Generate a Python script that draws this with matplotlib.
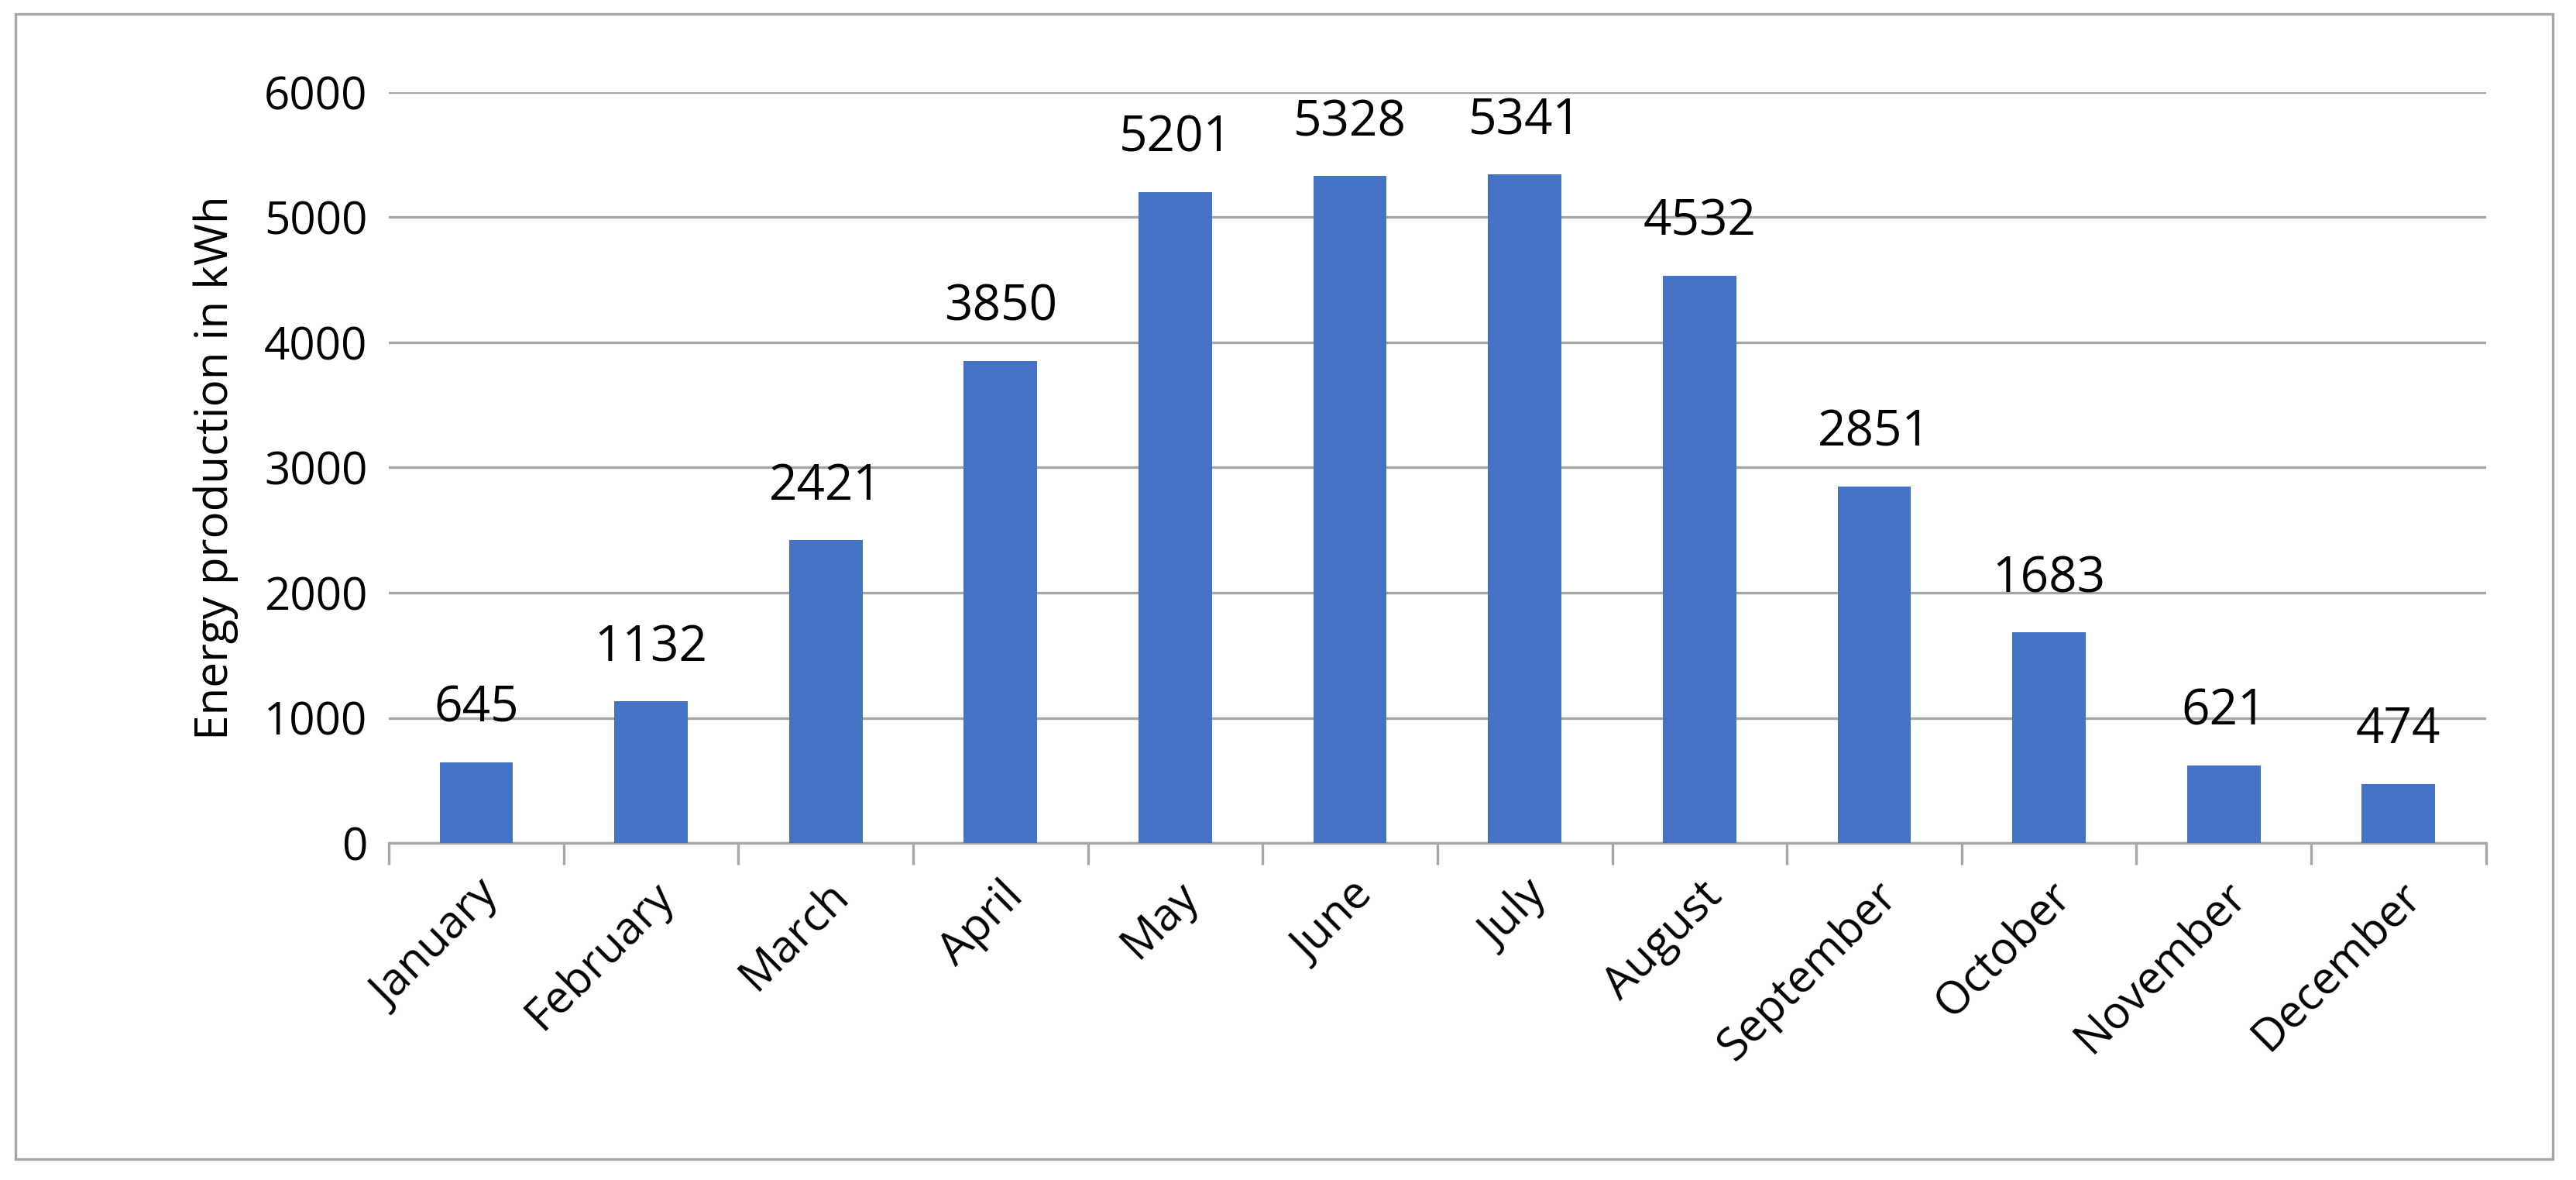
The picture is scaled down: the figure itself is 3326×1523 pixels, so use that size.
import matplotlib
matplotlib.use('Agg')
import matplotlib.pyplot as plt
from matplotlib.patches import Rectangle

months = ['January', 'February', 'March', 'April', 'May', 'June', 'July',
          'August', 'September', 'October', 'November', 'December']
energy = [645, 1132, 2421, 3850, 5201, 5328, 5341, 4532, 2851, 1683, 621, 474]
yticks = [0, 1000, 2000, 3000, 4000, 5000, 6000]

plt.rcParams['font.family'] = ['Open Sans', 'DejaVu Sans']

fig = plt.figure(figsize=(16.63, 7.615), dpi=200)
fig.set_facecolor('white')
ax = fig.add_axes([0.151, 0.2855, 0.814, 0.6365])

x = range(len(months))
ax.bar(x, energy, width=0.42, color='#4472C4', zorder=3)
for i, v in zip(x, energy):
    ax.text(i, v + 230, str(v), ha='center', va='bottom', fontsize=23)

ax.set_xlim(-0.5, len(months) - 0.5)
ax.set_ylim(0, 6000)
ax.set_yticks(yticks)
ax.set_yticklabels([str(t) for t in yticks], fontsize=21)
ax.tick_params(axis='y', length=0, pad=10)
ax.grid(axis='y', color='#A6A6A6', linewidth=1.2, zorder=0)

ax.set_xticks([i for i in x])
ax.set_xticklabels(months, rotation=45, ha='right', rotation_mode='anchor', fontsize=21)
ax.tick_params(axis='x', length=0, pad=14)
ax.set_xticks([i - 0.5 for i in range(len(months) + 1)], minor=True)
ax.tick_params(axis='x', which='minor', length=10, color='#A6A6A6', width=1.2)

for s in ['top', 'right', 'left']:
    ax.spines[s].set_visible(False)
ax.spines['bottom'].set_color('#A6A6A6')
ax.spines['bottom'].set_linewidth(1.2)

ax.set_ylabel('Energy production in kWh', fontsize=21, labelpad=12)

fig.patches.append(Rectangle((0.006, 0.018), 0.985, 0.97, transform=fig.transFigure,
                             fill=False, edgecolor='#A6A6A6', linewidth=1.2))

fig.savefig('out.png', dpi=200)
